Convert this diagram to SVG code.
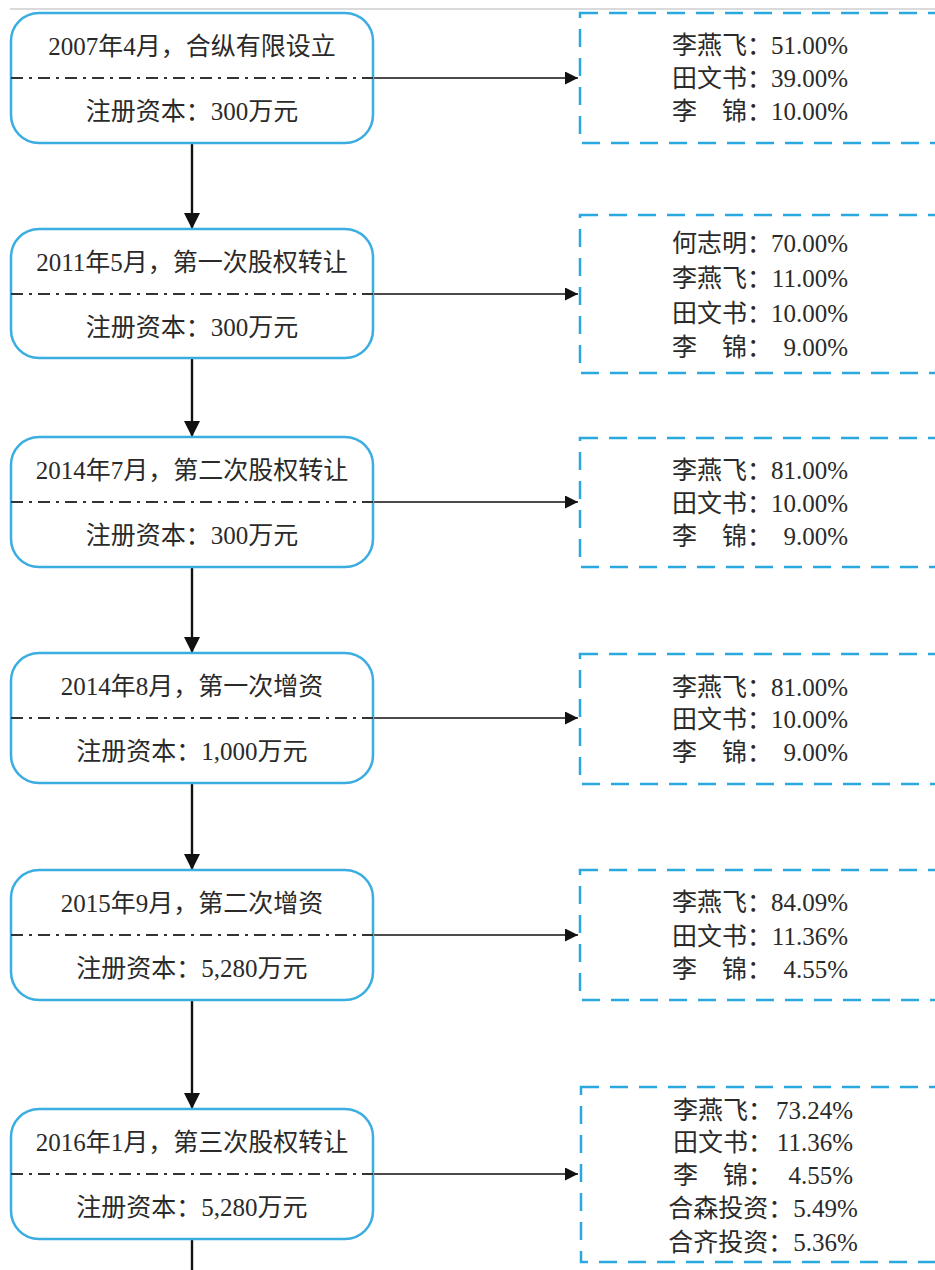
<svg xmlns="http://www.w3.org/2000/svg" width="935" height="1270" viewBox="0 0 935 1270">
<style>
.node{fill:#fff;stroke:#3aaee0;stroke-width:2.5}
.box{fill:#fff;stroke:#29a9e0;stroke-width:2.5;stroke-dasharray:18 11}
.div{stroke:#333;stroke-width:1.8;stroke-dasharray:12 6 3 6;fill:none}
.conn{stroke:#111;stroke-width:1.6;fill:none}
.vconn{stroke:#111;stroke-width:2.4;fill:none}
text{font-family:"Liberation Serif","Noto Sans CJK SC",serif;font-size:25px;fill:#2a2a2a}
.c{text-anchor:middle}
.e{text-anchor:end}
</style>
<defs>
<marker id="ah" viewBox="0 0 10 10" refX="10" refY="5" markerWidth="17" markerHeight="13" markerUnits="userSpaceOnUse" orient="auto"><path d="M0,0 L10,5 L0,10 z" fill="#111"/></marker>
<marker id="av" viewBox="0 0 10 10" refX="10" refY="5" markerWidth="22" markerHeight="16" markerUnits="userSpaceOnUse" orient="auto"><path d="M0,0 L10,5 L0,10 z" fill="#111"/></marker>
</defs>
<line x1="10" y1="9" x2="935" y2="9" stroke="#b5b5b5" stroke-width="1"/>
<g id="connectors">
<line class="vconn" x1="192" y1="143" x2="192" y2="229" marker-end="url(#av)"/>
<line class="vconn" x1="192" y1="358" x2="192" y2="437" marker-end="url(#av)"/>
<line class="vconn" x1="192" y1="567" x2="192" y2="653" marker-end="url(#av)"/>
<line class="vconn" x1="192" y1="783" x2="192" y2="870" marker-end="url(#av)"/>
<line class="vconn" x1="192" y1="1000" x2="192" y2="1109" marker-end="url(#av)"/>
<line class="vconn" x1="192" y1="1239" x2="192" y2="1270"/>
<line class="conn" x1="373" y1="78" x2="578" y2="78" marker-end="url(#ah)"/>
<line class="conn" x1="373" y1="294" x2="578" y2="294" marker-end="url(#ah)"/>
<line class="conn" x1="373" y1="502" x2="578" y2="502" marker-end="url(#ah)"/>
<line class="conn" x1="373" y1="718" x2="578" y2="718" marker-end="url(#ah)"/>
<line class="conn" x1="373" y1="935" x2="578" y2="935" marker-end="url(#ah)"/>
<line class="conn" x1="373" y1="1174" x2="578" y2="1174" marker-end="url(#ah)"/>
</g>
<g id="n1">
<rect class="node" x="11" y="13" width="362" height="130" rx="28"/>
<line class="div" x1="11" y1="78" x2="373" y2="78"/>
<text class="c" x="192" y="55">2007年4月，合纵有限设立</text>
<text class="c" x="192" y="120">注册资本：300万元</text>
</g>
<g id="n2">
<rect class="node" x="11" y="229" width="362" height="129" rx="28"/>
<line class="div" x1="11" y1="294" x2="373" y2="294"/>
<text class="c" x="192" y="271">2011年5月，第一次股权转让</text>
<text class="c" x="192" y="336">注册资本：300万元</text>
</g>
<g id="n3">
<rect class="node" x="11" y="437" width="362" height="130" rx="28"/>
<line class="div" x1="11" y1="502" x2="373" y2="502"/>
<text class="c" x="192" y="479">2014年7月，第二次股权转让</text>
<text class="c" x="192" y="544">注册资本：300万元</text>
</g>
<g id="n4">
<rect class="node" x="11" y="653" width="362" height="130" rx="28"/>
<line class="div" x1="11" y1="718" x2="373" y2="718"/>
<text class="c" x="192" y="695">2014年8月，第一次增资</text>
<text class="c" x="192" y="760">注册资本：1,000万元</text>
</g>
<g id="n5">
<rect class="node" x="11" y="870" width="362" height="130" rx="28"/>
<line class="div" x1="11" y1="935" x2="373" y2="935"/>
<text class="c" x="192" y="912">2015年9月，第二次增资</text>
<text class="c" x="192" y="977">注册资本：5,280万元</text>
</g>
<g id="n6">
<rect class="node" x="11" y="1109" width="362" height="130" rx="28"/>
<line class="div" x1="11" y1="1174" x2="373" y2="1174"/>
<text class="c" x="192" y="1151">2016年1月，第三次股权转让</text>
<text class="c" x="192" y="1216">注册资本：5,280万元</text>
</g>
<g id="s1">
<rect class="box" x="580" y="13" width="380" height="130"/>
<text x="672" y="54">李燕飞：</text><text class="e" x="848" y="54">51.00%</text>
<text x="672" y="87">田文书：</text><text class="e" x="848" y="87">39.00%</text>
<text x="672" y="120">李　锦：</text><text class="e" x="848" y="120">10.00%</text>
</g>
<g id="s2">
<rect class="box" x="580" y="215" width="380" height="158"/>
<text x="672" y="252">何志明：</text><text class="e" x="848" y="252">70.00%</text>
<text x="672" y="287">李燕飞：</text><text class="e" x="848" y="287">11.00%</text>
<text x="672" y="322">田文书：</text><text class="e" x="848" y="322">10.00%</text>
<text x="672" y="356">李　锦：</text><text class="e" x="848" y="356">9.00%</text>
</g>
<g id="s3">
<rect class="box" x="580" y="438" width="380" height="129"/>
<text x="672" y="479">李燕飞：</text><text class="e" x="848" y="479">81.00%</text>
<text x="672" y="512">田文书：</text><text class="e" x="848" y="512">10.00%</text>
<text x="672" y="545">李　锦：</text><text class="e" x="848" y="545">9.00%</text>
</g>
<g id="s4">
<rect class="box" x="580" y="654" width="380" height="130"/>
<text x="672" y="696">李燕飞：</text><text class="e" x="848" y="696">81.00%</text>
<text x="672" y="728">田文书：</text><text class="e" x="848" y="728">10.00%</text>
<text x="672" y="761">李　锦：</text><text class="e" x="848" y="761">9.00%</text>
</g>
<g id="s5">
<rect class="box" x="580" y="870" width="380" height="130"/>
<text x="672" y="911">李燕飞：</text><text class="e" x="848" y="911">84.09%</text>
<text x="672" y="945">田文书：</text><text class="e" x="848" y="945">11.36%</text>
<text x="672" y="978">李　锦：</text><text class="e" x="848" y="978">4.55%</text>
</g>
<g id="s6">
<rect class="box" x="581" y="1087" width="380" height="175"/>
<text x="673" y="1119">李燕飞：</text><text class="e" x="853" y="1119">73.24%</text>
<text x="673" y="1151">田文书：</text><text class="e" x="853" y="1151">11.36%</text>
<text x="673" y="1184">李　锦：</text><text class="e" x="853" y="1184">4.55%</text>
<text class="c" x="763" y="1217">合森投资：5.49%</text>
<text class="c" x="763" y="1251">合齐投资：5.36%</text>
</g>
</svg>
